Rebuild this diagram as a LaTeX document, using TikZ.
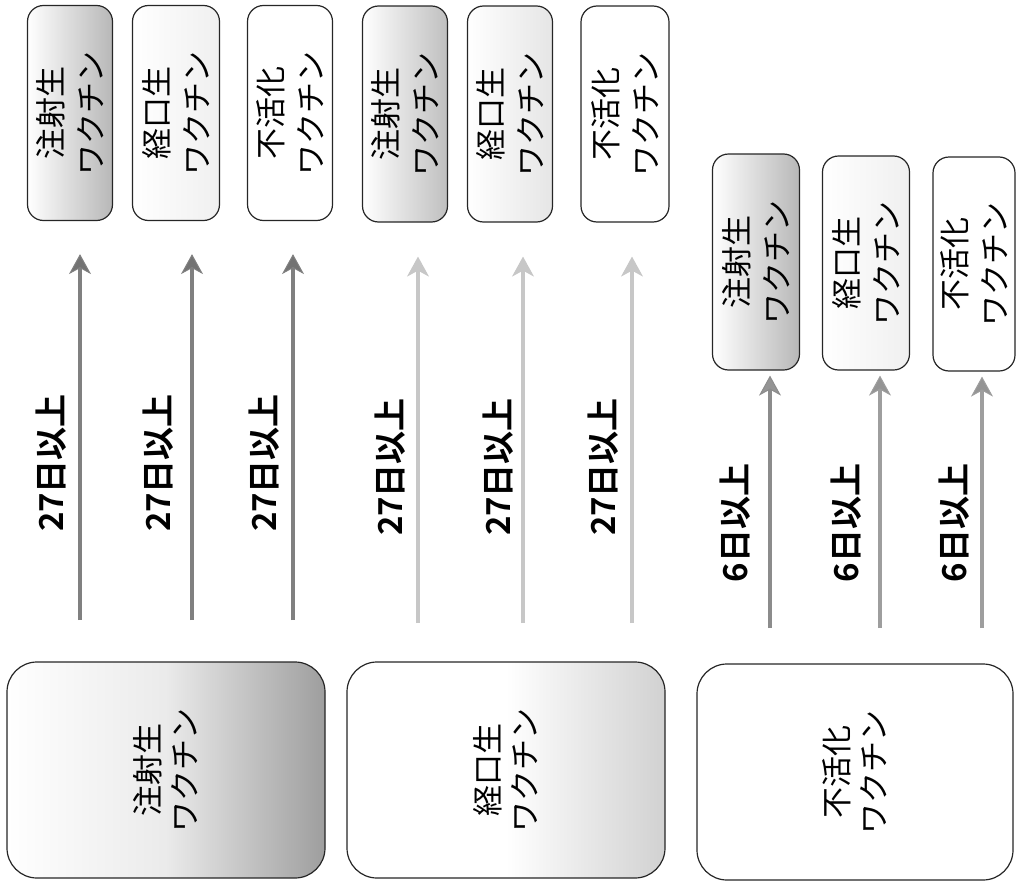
\documentclass[tikz,border=0pt]{standalone}
\usepackage{fontspec}
\newfontfamily\jp{Noto Sans CJK JP}[BoldFont={Noto Sans CJK JP Bold}]
\usetikzlibrary{arrows.meta}
\colorlet{headA}{black!55}
\colorlet{headB}{black!22}
\colorlet{headC}{black!42}
\tikzset{
  bigbox/.style={draw=black!85, line width=1.2pt, rounded corners=30pt, rotate=90,
    align=center, font=\jp\fontsize{31}{37}\selectfont, inner sep=0pt},
  smallbox/.style={draw=black!85, line width=1.2pt, rounded corners=16pt, rotate=90,
    align=center, font=\jp\fontsize{31}{40}\selectfont, inner sep=0pt},
  lbl/.style={rotate=90, font=\jp\bfseries\fontsize{33}{36}\selectfont, inner sep=0pt},
  arr/.style={line width=3.5pt, -{Stealth[length=20pt,width=22pt,inset=6pt,fill=#1,line width=1pt]}},
}
\begin{document}
\begin{tikzpicture}[x=1pt,y=-1pt]
\useasboundingbox (0,0) rectangle (1017,886);
% big boxes
\node[bigbox, minimum width=216pt, minimum height=318pt, left color=white, right color=black!38,
  middle color=black!8] (b1) at (166,770) {注射生\\ワクチン};
\node[bigbox, minimum width=216pt, minimum height=318pt, left color=white, right color=black!18,
  middle color=white] (b2) at (506,770) {経口生\\ワクチン};
\node[bigbox, minimum width=216pt, minimum height=316pt, fill=white] (b3) at (855,772) {不活化\\ワクチン};
% top boxes group 1
\node[smallbox, minimum width=215pt, minimum height=85pt, left color=white, right color=black!28] (t1) at (70,113) {注射生\\ワクチン};
\node[smallbox, minimum width=215pt, minimum height=87pt, left color=white, right color=black!6] (t2) at (176,113) {経口生\\ワクチン};
\node[smallbox, minimum width=215pt, minimum height=85pt, fill=white] (t3) at (290,113) {不活化\\ワクチン};
% top boxes group 2
\node[smallbox, minimum width=216pt, minimum height=85pt, left color=white, right color=black!25] (t4) at (405,114) {注射生\\ワクチン};
\node[smallbox, minimum width=216pt, minimum height=85pt, left color=white, right color=black!10] (t5) at (510,114) {経口生\\ワクチン};
\node[smallbox, minimum width=216pt, minimum height=88pt, fill=white] (t6) at (625,114) {不活化\\ワクチン};
% right group boxes
\node[smallbox, minimum width=216pt, minimum height=87pt, left color=white, right color=black!28] (r1) at (756,262) {注射生\\ワクチン};
\node[smallbox, minimum width=214pt, minimum height=87pt, left color=white, right color=black!6] (r2) at (866,263) {経口生\\ワクチン};
\node[smallbox, minimum width=214pt, minimum height=82pt, fill=white] (r3) at (974,264) {不活化\\ワクチン};
% arrow start coordinates
\coordinate (s1) at (80,620);
\coordinate (s2) at (192,620);
\coordinate (s3) at (293,620);
\coordinate (s4) at (418,623);
\coordinate (s5) at (523,623);
\coordinate (s6) at (632,623);
\coordinate (s7) at (770,628);
\coordinate (s8) at (880,628);
\coordinate (s9) at (982,628);
% arrows
\draw[arr=headA, draw=black!50, shorten >=33pt] (s1) -- (s1 |- t1.west);
\draw[arr=headA, draw=black!50, shorten >=33pt] (s2) -- (s2 |- t2.west);
\draw[arr=headA, draw=black!50, shorten >=33pt] (s3) -- (s3 |- t3.west);
\draw[arr=headB, draw=black!22, shorten >=34pt] (s4) -- (s4 |- t4.west);
\draw[arr=headB, draw=black!22, shorten >=34pt] (s5) -- (s5 |- t5.west);
\draw[arr=headB, draw=black!22, shorten >=34pt] (s6) -- (s6 |- t6.west);
\draw[arr=headC, draw=black!45, shorten >=5pt] (s7) -- (s7 |- r1.west);
\draw[arr=headC, draw=black!38, shorten >=5pt] (s8) -- (s8 |- r2.west);
\draw[arr=headC, draw=black!38, shorten >=5pt] (s9) -- (s9 |- r3.west);
% labels
\node[lbl] (l1) at (51,463) {27日以上};
\node[lbl] (l2) at (158,463) {27日以上};
\node[lbl] (l3) at (264,463) {27日以上};
\node[lbl] (l4) at (390,467) {27日以上};
\node[lbl] (l5) at (498,467) {27日以上};
\node[lbl] (l6) at (603,467) {27日以上};
\node[lbl] (l7) at (735,523) {6日以上};
\node[lbl] (l8) at (846,523) {6日以上};
\node[lbl] (l9) at (954,523) {6日以上};
\end{tikzpicture}
\end{document}
